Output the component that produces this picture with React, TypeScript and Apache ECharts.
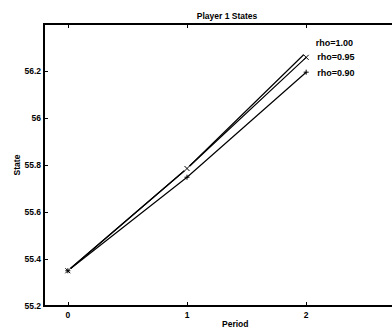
import React, { useEffect, useRef } from "react";
import * as echarts from "echarts";

const periods = [0, 1, 2];
const rho100 = [55.35, 55.785, 56.28];
const rho095 = [55.35, 55.785, 56.258];
const rho090 = [55.35, 55.748, 56.195];
const seriesNames = ["rho=1.00", "rho=0.95", "rho=0.90"];
const xTicks = [0, 1, 2];
const yTicks = [55.2, 55.4, 55.6, 55.8, 56, 56.2];

const FONT = "'Liberation Sans', Arial, sans-serif";

export default function App() {
  const ref = useRef<HTMLDivElement>(null);
  useEffect(() => {
    if (!ref.current) return;
    const chart = echarts.init(ref.current, null, { renderer: "svg" });
    const symbols = [
      "emptyCircle",
      "path://M0,0L10,10M10,0L0,10",
      "path://M5,0L5,10M0,5L10,5",
    ];
    const labelOffsets = [
      [0, -9.5],
      [0, 0],
      [0, 0.5],
    ];
    const seriesData = [rho100, rho095, rho090];
    const series = seriesData.map((vals, si) => ({
      type: "line",
      name: seriesNames[si],
      xAxisIndex: 0,
      yAxisIndex: 0,
      data: vals.map((v, i) => ({
        value: [periods[i], v],
        label:
          i === vals.length - 1
            ? {
                show: true,
                position: "right",
                distance: 6,
                offset: labelOffsets[si],
                formatter: seriesNames[si],
                color: "#000",
                fontFamily: FONT,
                fontSize: 9,
                fontWeight: "bold",
              }
            : { show: false },
      })),
      symbol: symbols[si],
      symbolSize: 5,
      showSymbol: true,
      lineStyle: { color: "#000", width: 1.2 },
      itemStyle: { color: si === 0 ? "#fff" : "none", borderColor: "#000", borderWidth: 1 },
      z: 3,
    }));
    chart.setOption({
      animation: false,
      backgroundColor: "#fff",
      title: {
        text: "Player 1 States",
        left: 222,
        top: 6,
        textAlign: "center",
        textStyle: { fontFamily: FONT, fontSize: 8.5, fontWeight: "bold", color: "#000" },
      },
      grid: {
        left: 44,
        top: 24,
        width: 376,
        height: 282,
        containLabel: false,
        outerBoundsMode: "none",
        show: true,
        borderColor: "#000",
        borderWidth: 2,
        backgroundColor: "transparent",
      },
      xAxis: [
        {
          type: "value",
          min: -0.2,
          max: 2.955,
          position: "bottom",
          axisLine: { show: true, onZero: false, lineStyle: { color: "#000", width: 1.2 } },
          axisTick: { show: true, inside: true, length: 4, customValues: xTicks, lineStyle: { color: "#000" } },
          axisLabel: {
            customValues: xTicks,
            margin: 4,
            fontFamily: FONT,
            fontSize: 8.5,
            fontWeight: "bold",
            color: "#000",
          },
          splitLine: { show: false },
        },
        {
          type: "value",
          min: -0.2,
          max: 2.955,
          position: "top",
          axisLine: { show: false, onZero: false },
          axisTick: { show: true, inside: true, length: 4, customValues: xTicks, lineStyle: { color: "#000" } },
          axisLabel: { show: false },
          splitLine: { show: false },
        },
      ],
      graphic: [
        {
          type: "text",
          left: 222,
          top: 319,
          style: {
            text: "Period",
            x: 0,
            textAlign: "center",
            fontFamily: FONT,
            fontSize: 8.5,
            fontWeight: "bold",
            fill: "#000",
          },
        },
      ],
      yAxis: {
        type: "value",
        min: 55.2,
        max: 56.4,
        position: "left",
        name: "State",
        nameLocation: "middle",
        nameGap: 23,
        nameMoveOverlap: false,
        nameTextStyle: { fontFamily: FONT, fontSize: 8.5, fontWeight: "bold", color: "#000" },
        axisLine: { show: true, onZero: false, lineStyle: { color: "#000", width: 2 } },
        axisTick: { show: true, inside: true, length: 4, customValues: yTicks, lineStyle: { color: "#000" } },
        axisLabel: {
          customValues: yTicks,
          margin: 3,
          fontFamily: FONT,
          fontSize: 8.5,
          fontWeight: "bold",
          color: "#000",
        },
        splitLine: { show: false },
      },
      series,
    });
    return () => chart.dispose();
  }, []);
  return (
    <div
      ref={ref}
      style={{ position: "fixed", left: 0, top: 0, width: 392, height: 329, background: "#fff", overflow: "hidden" }}
    />
  );
}
